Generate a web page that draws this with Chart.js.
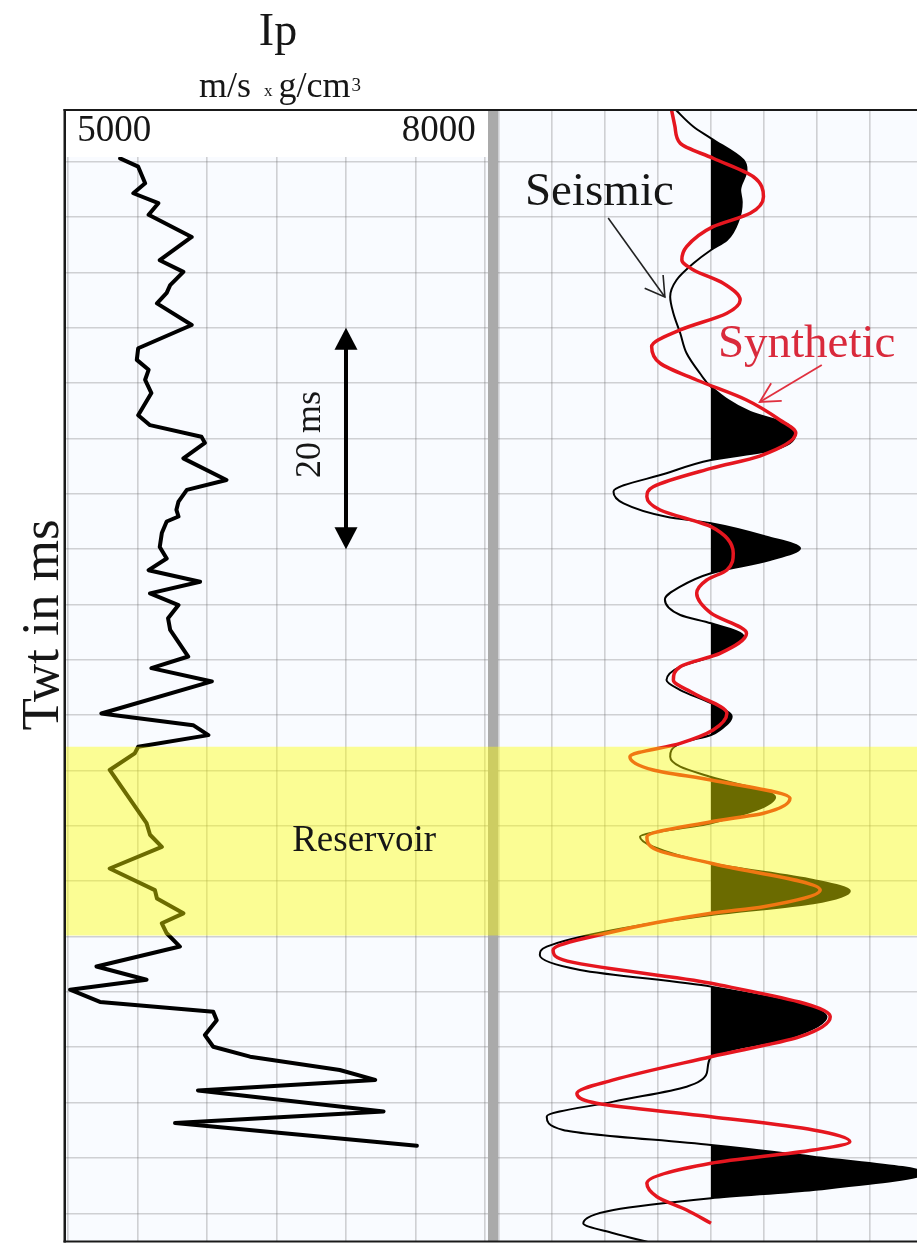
<!DOCTYPE html>
<html lang="en">
<head>
<meta charset="utf-8">
<title>Ip log and seismic / synthetic tie</title>
<script src="https://cdn.jsdelivr.net/npm/chart.js"></script>
<style>
  html, body { margin: 0; padding: 0; background: #ffffff; }
  #figure { position: relative; width: 917px; height: 1243px; overflow: hidden; background: #ffffff; }
  #ipCanvas { position: absolute; left: 0; top: 0; }
  #traceCanvas { position: absolute; left: 488px; top: 0; }
</style>
</head>
<body>
<div id="figure">
  <canvas id="ipCanvas" width="488" height="1243"></canvas>
  <canvas id="traceCanvas" width="429" height="1243"></canvas>
</div>
<script>
// ---- shared time axis (two-way time, ms) ----
const twtTicks = [5, 10, 15, 20, 25, 30, 35, 40, 45, 50, 55, 60, 65, 70, 75, 80, 85, 90, 95, 100];

// ---- acoustic impedance log ----
const ipTicks = [5000, 5500, 6000, 6500, 7000, 7500, 8000];
const ipTickLabels = ['5000', '8000'];
const ipTwt = [4.7, 5.45, 6.95, 7.85, 8.75, 9.8, 11.8, 13.9, 14.95, 16.15, 16.85, 17.8, 19.75, 21.85, 22.9, 23.8, 24.7, 25.9, 27.9, 28.8,
  29.85, 30.4, 31.8, 33.75, 34.65, 35.7, 36.45, 37.05, 37.5, 38.55, 39.8, 40.85, 41.9, 42.95, 44.0, 45.05, 46.25, 47.3, 49.7, 50.75,
  51.95, 54.85, 55.9, 56.8, 57.85, 58.45, 59.95, 64.75, 65.8, 66.9, 68.85, 70.8, 71.55, 72.9, 73.8, 74.7, 75.9, 77.7, 78.9, 79.8,
  80.9, 81.8, 82.55, 83.9, 84.95, 85.85, 87.05, 87.95, 88.9, 90.8, 91.85, 93.9];
const ipValue = [5375, 5505, 5555, 5470, 5650, 5580, 5890, 5660, 5830, 5735, 5710, 5640, 5890, 5505, 5495, 5580, 5555, 5600, 5505, 5590,
  5960, 5985, 5830, 6140, 5855, 5795, 5780, 5795, 5710, 5675, 5660, 5710, 5580, 5950, 5590, 5795, 5720, 5735, 5865, 5600,
  6035, 5240, 5900, 6010, 5505, 5480, 5300, 5565, 5590, 5675, 5300, 5625, 5640, 5830, 5675, 5710, 5805, 5205, 5565, 5015,
  5230, 6045, 6070, 5985, 6045, 6310, 6955, 7210, 5935, 7270, 5770, 7510];

// ---- seismic trace and synthetic (relative amplitude) ----
const ampTicks = [-4, -3, -2, -1, 0, 1, 2, 3];
const seismicTwt = [0.2, 1.84, 2.89, 4.85, 5.75, 7.56, 8.64, 10.27, 12.07, 12.98, 14.18, 15.69, 17.2, 18.69, 20.5, 22.31, 24.11, 25.33,
  27.61, 28.69, 29.78, 31.04, 31.95, 33.15, 34.81, 35.86, 37.07, 37.66, 38.88, 39.92, 40.98, 42.18, 43.39, 44.56, 45.95, 46.7,
  47.85, 49.11, 49.72, 50.62, 51.83, 52.73, 53.92, 55.13, 56.33, 56.79, 57.54, 58.75, 59.65, 60.58, 62.39, 64.76, 65.98, 66.88,
  68.38, 69.89, 70.88, 71.99, 73.05, 74.4, 75.91, 76.66, 78.01, 79.52, 82.24, 84.04, 85.85, 87.35, 88.56, 89.91, 91.27, 92.47,
  93.83, 94.88, 96.36, 97.89, 98.64, 99.7, 100.9, 101.8, 102.86];
const seismicAmp = [-0.69, -0.33, 0, 0.61, 0.67, 0.55, 0.58, 0.52, 0.30, 0, -0.33, -0.65, -0.77, -0.71, -0.58, -0.46, -0.21, 0,
  0.74, 1.43, 1.58, 1.17, 0, -0.84, -1.84, -1.65, -0.84, 0, 1.05, 1.68, 1.11, 0, -0.58, -0.87, -0.58, 0,
  0.61, 0.30, 0, -0.58, -0.84, -0.58, 0, 0.39, 0.17, 0, -0.58, -0.77, -0.58, 0, 1.21, 0, -1.34, -1.09,
  0, 1.93, 2.62, 1.93, 0, -1.84, -3.10, -3.23, -2.47, 0, 2.18, 1.55, 0, -0.08, -0.46, -1.84, -3.10, -2.79,
  0, 1.93, 4.04, 1.93, 0, -1.84, -2.41, -1.84, -0.96];
const synthTwt = [0.2, 1.84, 3.34, 4.69, 6.36, 8.16, 9.66, 10.87, 12.68, 13.88, 14.78, 15.98, 17.49, 18.69, 20.2, 21.71, 23.21, 24.72,
  26.53, 28.33, 29.51, 31.59, 32.7, 34.36, 35.26, 36.46, 37.97, 40.37, 41.88, 42.79, 43.99, 45.79, 47.6, 49.41, 50.62, 51.83,
  53.02, 54.83, 56.33, 57.54, 58.75, 59.95, 60.86, 62.51, 63.86, 64.62, 65.98, 67.18, 68.38, 70.79, 72.3, 72.9, 74.7, 76.21,
  77.11, 79.22, 82.24, 84.04, 85.85, 87.95, 89.16, 90.06, 91.27, 92.47, 93.53, 94.28, 95.48, 97.29, 98.5, 99.7, 100.9];
const synthAmp = [-0.75, -0.68, -0.58, 0.04, 0.80, 0.99, 0.74, 0.04, -0.46, -0.55, -0.33, 0.23, 0.55, 0.30, -0.58, -1.12, -0.96, -0.27,
  0.67, 1.30, 1.60, 0.92, 0, -1.09, -1.21, -0.96, 0, 0.42, 0.30, -0.08, -0.27, 0, 0.67, 0.17, -0.58, -0.71,
  -0.33, 0.30, 0.04, -0.58, -1.53, -1.09, 0, 1.49, 0.99, 0, -1.21, -1.02, 0, 2.06, 0.99, 0, -1.97, -2.98,
  -2.79, 0, 2.25, 1.68, 0, -1.84, -2.53, -2.16, 0, 1.93, 2.62, 1.93, 0, -1.21, -1.02, -0.46, 0];

// ---- interval markers ----
const reservoirTwt = [57.85, 74.9];
const scaleBarTwt = [20, 40];
const scaleBarIp = 7000;

// ---- styling ----
const SERIF = "'Liberation Serif', 'Times New Roman', serif";
const GRID = 'rgba(110,110,110,0.3)';
const PLOT_BG = '#f9fbff';
const BAND = 'rgba(255,255,0,0.42)';
const INK = '#161616';
const SYNTH_RED = '#e5161f';
const SYNTH_TEXT = '#d92a3c';
const FILL_INDEX = 2;

function toPoints(values, twt) {
  return twt.map((t, i) => ({ x: values[i], y: t }));
}

function fixedTicks(list) {
  return (scale) => { scale.ticks = list.map(v => ({ value: v })); };
}

function openHead(ctx, tip, from, len, deg) {
  const ang = Math.atan2(from.y - tip.y, from.x - tip.x);
  const r = deg * Math.PI / 180;
  ctx.beginPath();
  ctx.moveTo(tip.x + len * Math.cos(ang - r), tip.y + len * Math.sin(ang - r));
  ctx.lineTo(tip.x, tip.y);
  ctx.lineTo(tip.x + len * Math.cos(ang + r), tip.y + len * Math.sin(ang + r));
  ctx.stroke();
}

function paintPlotBackground(chart) {
  const { ctx, chartArea: a } = chart;
  ctx.save();
  ctx.fillStyle = PLOT_BG;
  ctx.fillRect(a.left, a.top, a.right - a.left, a.bottom - a.top);
  ctx.restore();
}

// ---------------- left track: Ip log ----------------
const ipDecor = {
  id: 'ipDecor',
  beforeDraw: paintPlotBackground,
  afterDatasetsDraw(chart) {
    const { ctx, chartArea: a, scales: { x, y } } = chart;
    ctx.save();

    // reservoir interval, translucent over the log
    const yTop = y.getPixelForValue(reservoirTwt[0]);
    const yBase = y.getPixelForValue(reservoirTwt[1]);
    ctx.fillStyle = BAND;
    ctx.fillRect(a.left, yTop, a.right - a.left, yBase - yTop);
    ctx.fillStyle = INK;
    ctx.font = `37px ${SERIF}`;
    ctx.textAlign = 'center';
    ctx.textBaseline = 'middle';
    ctx.fillText('Reservoir', x.getPixelForValue(7130), (yTop + yBase) / 2);

    // vertical time scale bar
    const bx = x.getPixelForValue(scaleBarIp);
    const b1 = y.getPixelForValue(scaleBarTwt[0]);
    const b2 = y.getPixelForValue(scaleBarTwt[1]);
    const head = 22, half = 11.5;
    ctx.strokeStyle = '#000';
    ctx.lineWidth = 4;
    ctx.beginPath();
    ctx.moveTo(bx, b1 + head - 2);
    ctx.lineTo(bx, b2 - head + 2);
    ctx.stroke();
    ctx.fillStyle = '#000';
    ctx.beginPath();
    ctx.moveTo(bx, b1); ctx.lineTo(bx - half, b1 + head); ctx.lineTo(bx + half, b1 + head);
    ctx.closePath(); ctx.fill();
    ctx.beginPath();
    ctx.moveTo(bx, b2); ctx.lineTo(bx - half, b2 - head); ctx.lineTo(bx + half, b2 - head);
    ctx.closePath(); ctx.fill();
    ctx.save();
    ctx.translate(bx - 26, (b1 + b2) / 2 - 4);
    ctx.rotate(-Math.PI / 2);
    ctx.font = `36px ${SERIF}`;
    ctx.textAlign = 'center';
    ctx.textBaseline = 'alphabetic';
    ctx.fillStyle = INK;
    ctx.fillText(`${scaleBarTwt[1] - scaleBarTwt[0]} ms`, 0, 0);
    ctx.restore();

    // track frame
    ctx.fillStyle = '#1a1a1a';
    ctx.fillRect(63.5, 109, 2.5, 1133.5);
    ctx.fillRect(63.5, 109, chart.width - 63.5, 2);
    ctx.fillRect(63.5, 1240.5, chart.width - 63.5, 2);
    ctx.restore();
  },
  afterDraw(chart) {
    const { ctx } = chart;
    ctx.save();
    ctx.fillStyle = INK;
    ctx.textBaseline = 'alphabetic';

    // curve name and unit
    ctx.textAlign = 'center';
    ctx.font = `46px ${SERIF}`;
    ctx.fillText('Ip', 278, 45);

    const parts = [
      { text: 'm/s', size: 36, dy: 0, gap: 13 },
      { text: 'x', size: 17, dy: -1, gap: 6 },
      { text: 'g/cm', size: 36, dy: 0, gap: 1 },
      { text: '3', size: 19, dy: -6, gap: 0 }
    ];
    ctx.textAlign = 'left';
    let total = 0;
    parts.forEach(p => {
      ctx.font = `${p.size}px ${SERIF}`;
      p.w = ctx.measureText(p.text).width;
      total += p.w + p.gap;
    });
    let cx = 280 - total / 2;
    parts.forEach(p => {
      ctx.font = `${p.size}px ${SERIF}`;
      ctx.fillText(p.text, cx, 97 + p.dy);
      cx += p.w + p.gap;
    });

    // vertical axis name
    ctx.translate(58, 625);
    ctx.rotate(-Math.PI / 2);
    ctx.textAlign = 'center';
    ctx.font = `53px ${SERIF}`;
    ctx.fillText('Twt in ms', 0, 0);
    ctx.restore();
  }
};

new Chart(document.getElementById('ipCanvas'), {
  type: 'line',
  data: {
    datasets: [{
      label: 'Ip',
      data: toPoints(ipValue, ipTwt),
      borderColor: '#000',
      borderWidth: 4,
      borderJoinStyle: 'round',
      borderCapStyle: 'round',
      pointRadius: 0,
      tension: 0,
      fill: false
    }]
  },
  options: {
    responsive: false,
    animation: false,
    events: [],
    indexAxis: 'y',
    layout: { padding: { left: 66, right: 0, top: 110, bottom: 2 } },
    plugins: { legend: { display: false }, tooltip: { enabled: false } },
    scales: {
      x: {
        type: 'linear',
        position: 'top',
        min: 4985.6,
        max: 8021.6,
        afterBuildTicks: fixedTicks(ipTicks),
        afterFit: (s) => { s.height = 47; },
        grid: { color: GRID, lineWidth: 1.6, drawTicks: false },
        border: { display: false },
        ticks: {
          autoSkip: false,
          maxRotation: 0,
          align: 'inner',
          padding: 0,
          color: INK,
          font: { family: SERIF, size: 37, lineHeight: 1.4 },
          callback: (v) => v === ipTicks[0] ? ' ' + ipTickLabels[0]
            : v === ipTicks[ipTicks.length - 1] ? ipTickLabels[1] + ' ' : ''
        }
      },
      y: {
        type: 'linear',
        reverse: true,
        min: 4.575,
        max: 102.5,
        afterBuildTicks: fixedTicks(twtTicks),
        afterFit: (s) => { s.width = 0; },
        grid: { color: GRID, lineWidth: 1.6, drawTicks: false },
        border: { display: false },
        ticks: { display: false }
      }
    }
  },
  plugins: [ipDecor]
});

// ---------------- right track: seismic vs synthetic ----------------
const traceDecor = {
  id: 'traceDecor',
  beforeDraw: paintPlotBackground,
  // positive lobes of the seismic are shaded only on the right of zero
  beforeDatasetsDraw(chart) {
    const { ctx, chartArea: a, scales: { x } } = chart;
    const x0 = x.getPixelForValue(0);
    ctx.save();
    ctx.beginPath();
    ctx.rect(x0, a.top, a.right - x0, a.bottom - a.top);
    ctx.clip();
  },
  afterDatasetDraw(chart, args) {
    if (args.index === FILL_INDEX) chart.ctx.restore();
  },
  afterDatasetsDraw(chart) {
    const { ctx, chartArea: a, scales: { x, y } } = chart;
    const P = (amp, twt) => ({ x: x.getPixelForValue(amp), y: y.getPixelForValue(twt) });
    ctx.save();

    // divider between the two tracks
    ctx.fillStyle = '#aaaaaa';
    ctx.fillRect(0, 109, a.left, 1133);

    // reservoir interval
    const yTop = y.getPixelForValue(reservoirTwt[0]);
    const yBase = y.getPixelForValue(reservoirTwt[1]);
    ctx.fillStyle = BAND;
    ctx.fillRect(0, yTop, chart.width, yBase - yTop);

    // labels with pointers
    ctx.textAlign = 'left';
    ctx.textBaseline = 'alphabetic';
    ctx.font = `47px ${SERIF}`;
    let p = P(-3.51, 8.91);
    ctx.fillStyle = INK;
    ctx.fillText('Seismic', p.x, p.y);
    let from = P(-1.94, 10.09), tip = P(-0.87, 17.22);
    ctx.strokeStyle = '#222';
    ctx.lineWidth = 1.6;
    ctx.beginPath(); ctx.moveTo(from.x, from.y); ctx.lineTo(tip.x, tip.y); ctx.stroke();
    openHead(ctx, tip, from, 22, 31);

    p = P(0.13, 22.64);
    ctx.fillStyle = SYNTH_TEXT;
    ctx.fillText('Synthetic', p.x, p.y);
    from = P(2.09, 23.37); tip = P(0.92, 26.71);
    ctx.strokeStyle = '#e0303f';
    ctx.lineWidth = 1.8;
    ctx.beginPath(); ctx.moveTo(from.x, from.y); ctx.lineTo(tip.x, tip.y); ctx.stroke();
    openHead(ctx, tip, from, 22, 28);

    // track frame
    ctx.fillStyle = '#1a1a1a';
    ctx.fillRect(0, 109, chart.width, 2);
    ctx.fillRect(0, 1240.5, chart.width, 2);
    ctx.restore();
  }
};

new Chart(document.getElementById('traceCanvas'), {
  type: 'line',
  data: {
    datasets: [
      {
        label: 'Synthetic',
        data: toPoints(synthAmp, synthTwt),
        borderColor: SYNTH_RED,
        borderWidth: 3.5,
        pointRadius: 0,
        cubicInterpolationMode: 'monotone',
        fill: false
      },
      {
        label: 'Seismic',
        data: toPoints(seismicAmp, seismicTwt),
        borderColor: '#000',
        borderWidth: 2,
        pointRadius: 0,
        cubicInterpolationMode: 'monotone',
        fill: false
      },
      {
        label: 'Seismic (positive fill)',
        data: toPoints(seismicAmp, seismicTwt),
        borderWidth: 0,
        backgroundColor: '#000',
        pointRadius: 0,
        cubicInterpolationMode: 'monotone',
        fill: { value: 0 }
      }
    ]
  },
  options: {
    responsive: false,
    animation: false,
    events: [],
    indexAxis: 'y',
    layout: { padding: { left: 10, right: 0, top: 110, bottom: 2 } },
    plugins: { legend: { display: false }, tooltip: { enabled: false } },
    scales: {
      x: {
        type: 'linear',
        min: -4.019,
        max: 3.887,
        afterBuildTicks: fixedTicks(ampTicks),
        afterFit: (s) => { s.height = 0; },
        grid: { color: GRID, lineWidth: 1.6, drawTicks: false },
        border: { display: false },
        ticks: { display: false }
      },
      y: {
        type: 'linear',
        reverse: true,
        min: 0.33,
        max: 102.5,
        afterBuildTicks: fixedTicks(twtTicks),
        afterFit: (s) => { s.width = 0; },
        grid: { color: GRID, lineWidth: 1.6, drawTicks: false },
        border: { display: false },
        ticks: { display: false }
      }
    }
  },
  plugins: [traceDecor]
});
</script>
</body>
</html>
